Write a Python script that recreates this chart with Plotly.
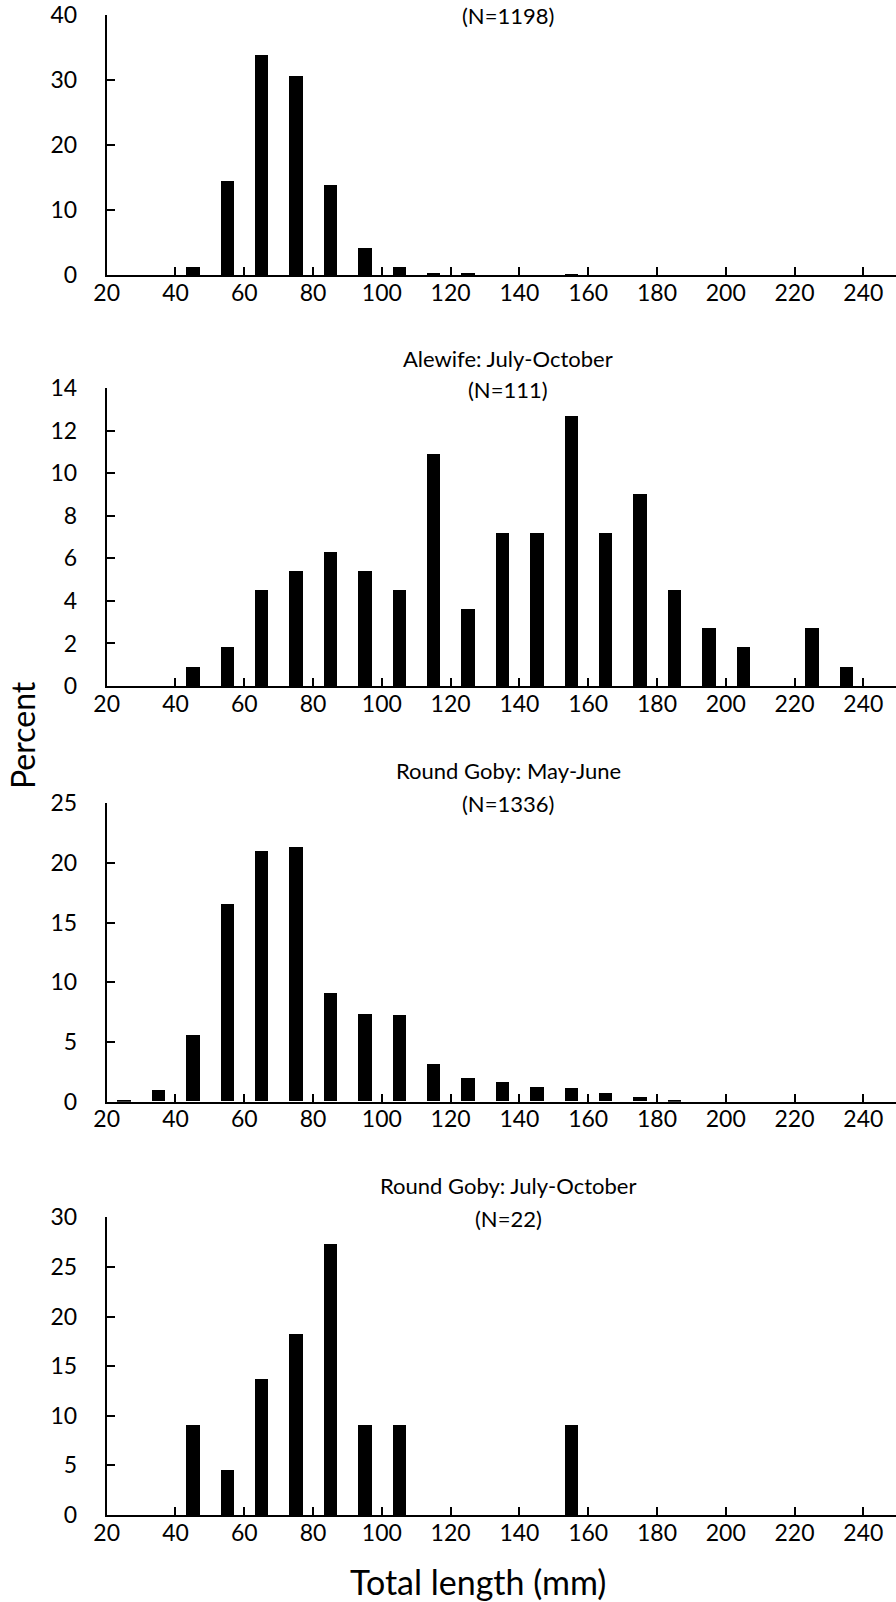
import plotly.graph_objects as go

# ---------------- data ----------------
bins = [25, 35, 45, 55, 65, 75, 85, 95, 105, 115, 125, 135, 145, 155, 165, 175, 185, 195, 205, 215, 225, 235]

alewife_may_june = [0, 0, 1.25, 14.5, 33.9, 30.6, 13.8, 4.1, 1.25, 0.17, 0.17, 0, 0, 0.08, 0, 0, 0, 0, 0, 0, 0, 0]
alewife_jul_oct = [0, 0, 0.9, 1.8, 4.5, 5.4, 6.3, 5.4, 4.5, 10.9, 3.6, 7.2, 7.2, 12.7, 7.2, 9.0, 4.5, 2.7, 1.8, 0, 2.7, 0.9]
goby_may_june = [0.15, 0.97, 5.6, 16.5, 21.0, 21.3, 9.1, 7.3, 7.2, 3.1, 2.0, 1.6, 1.2, 1.1, 0.7, 0.35, 0.08, 0, 0, 0, 0, 0]
goby_jul_oct = [0, 0, 9.09, 4.55, 13.64, 18.18, 27.27, 9.09, 9.09, 0, 0, 0, 0, 9.09, 0, 0, 0, 0, 0, 0, 0, 0]

series = [alewife_may_june, alewife_jul_oct, goby_may_june, goby_jul_oct]
titles = [
    ("Alewife: May-June", "(N=1198)"),
    ("Alewife: July-October", "(N=111)"),
    ("Round Goby: May-June", "(N=1336)"),
    ("Round Goby: July-October", "(N=22)"),
]
y_max = [40, 14, 25, 30]
y_step = [10, 2, 5, 5]
x_ticks = [20, 40, 60, 80, 100, 120, 140, 160, 180, 200, 220, 240]

# ---------------- layout geometry (pixels) ----------------
W, H = 896, 1602
panel_px = [(15, 275), (388.3, 686), (803.3, 1101.7), (1217.3, 1515)]
title_px = [(-16, 15), (358, 389.5), (771, 803), (1185, 1218)]
x_left = 106.7

FONT = "Lato"

fig = go.Figure()
layout = dict(
    width=W, height=H,
    margin=dict(l=0, r=0, t=0, b=0, pad=0, autoexpand=False),
    paper_bgcolor="white", plot_bgcolor="white",
    showlegend=False,
    font=dict(family=FONT, color="black"),
    bargap=0,
)

annotations = []
for i, vals in enumerate(series):
    n = i + 1
    xa = "x" if n == 1 else f"x{n}"
    ya = "y" if n == 1 else f"y{n}"
    fig.add_trace(go.Bar(
        x=bins, y=vals, width=3.9,
        marker=dict(color="black", line=dict(width=0)),
        xaxis=xa, yaxis=ya,
    ))
    top, bot = panel_px[i]
    xkey = "xaxis" if n == 1 else f"xaxis{n}"
    ykey = "yaxis" if n == 1 else f"yaxis{n}"
    layout[xkey] = dict(
        domain=[x_left / W, 1.0], range=[20, 249.5],
        anchor=ya, tickmode="array", tickvals=x_ticks,
        ticks="inside", ticklen=8, tickwidth=1.5, tickcolor="black",
        showline=True, linecolor="black", linewidth=2,
        showgrid=False, zeroline=False, automargin=False,
        tickfont=dict(family=FONT, size=23, color="black"),
        ticklabelstandoff=-4,
    )
    layout[ykey] = dict(
        domain=[1 - bot / H, 1 - top / H], range=[0, y_max[i]],
        anchor=xa, dtick=y_step[i], tick0=0,
        ticks="inside", ticklen=8, tickwidth=1.5, tickcolor="black",
        showline=True, linecolor="black", linewidth=2,
        showgrid=False, zeroline=False, automargin=False,
        tickfont=dict(family=FONT, size=23, color="black"),
        ticklabelstandoff=23,
    )
    l1, l2 = titles[i]
    y1, y2 = title_px[i]
    if i > 0:
        annotations.append(dict(text=l1, x=508 / W, y=1 - y1 / H, xref="paper", yref="paper",
                                xanchor="center", yanchor="middle", showarrow=False,
                                font=dict(family=FONT, size=22, color="black")))
    annotations.append(dict(text=l2, x=508 / W, y=1 - y2 / H, xref="paper", yref="paper",
                            xanchor="center", yanchor="middle", showarrow=False,
                            font=dict(family=FONT, size=22, color="black")))

annotations.append(dict(text="Percent", x=22 / W, y=1 - 735 / H, xref="paper", yref="paper",
                        xanchor="center", yanchor="middle", showarrow=False, textangle=-90,
                        font=dict(family=FONT, size=32, color="black")))
annotations.append(dict(text="Total length (mm)", x=478 / W, y=1 - 1581 / H, xref="paper", yref="paper",
                        xanchor="center", yanchor="middle", showarrow=False,
                        font=dict(family=FONT, size=34, color="black")))
layout["annotations"] = annotations
fig.update_layout(**layout)

fig.write_html("out.html", config={"displayModeBar": False},
               post_script="document.body.style.margin='0';document.body.style.overflow='hidden';")
